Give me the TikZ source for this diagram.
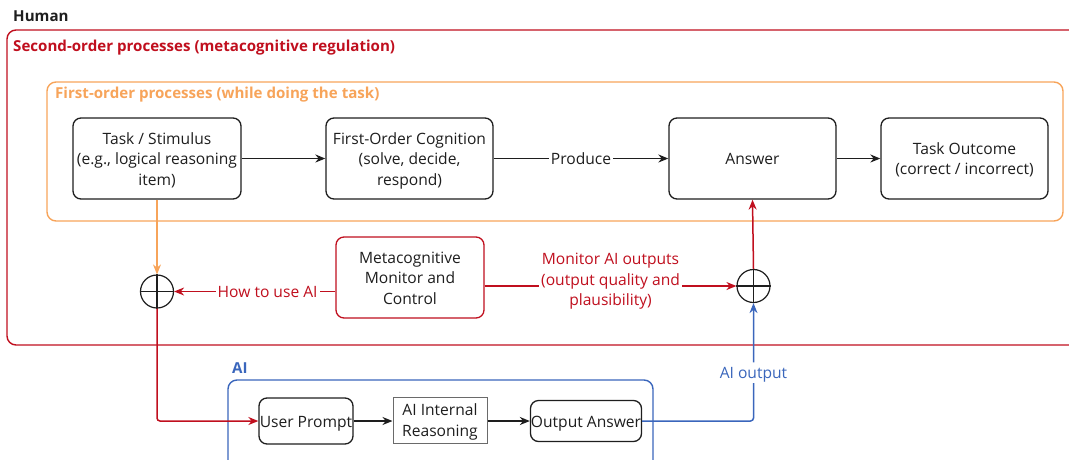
\documentclass[tikz,border=0pt]{standalone}
\usepackage{fontspec}
\setmainfont{Open Sans}
\usetikzlibrary{arrows.meta,calc}

\definecolor{metared}{HTML}{C00F1E}
\definecolor{firstorange}{HTML}{F7A45A}
\definecolor{aiblue}{HTML}{3A66BC}
\definecolor{ink}{HTML}{1E1E1E}
\definecolor{boxgray}{HTML}{6A6A6A}

% line strut: keeps every text line 20.5pt tall with its baseline low in the line
\newcommand\ls{\rule[-4.25pt]{0pt}{20.5pt}}

\tikzset{
  every node/.style={font=\fontsize{15.6}{20.5}\selectfont, text=ink},
  procbox/.style={draw=ink, line width=1.3pt, rounded corners=8pt, align=center,
    inner sep=0pt, fill=white},
  plainbox/.style={draw=boxgray, line width=1pt, align=center, inner sep=0pt, fill=white},
  frame/.style={line width=1.4pt, rounded corners=9pt, inner sep=0pt},
  title/.style={anchor=base west, inner sep=0pt, font=\fontsize{15.1}{18}\selectfont\bfseries},
  flow/.style={line width=1.5pt, -{Stealth[length=10pt,width=8pt]}},
  junction/.style={circle, draw=ink, line width=1.2pt, minimum size=33pt, inner sep=0pt, fill=white},
  lbl/.style={fill=white, inner xsep=2pt, inner ysep=0pt, align=center},
}

\begin{document}
\begin{tikzpicture}[x=1pt,y=-1pt]
\useasboundingbox (0,0) rectangle (1069,459);

% group frames
\node[frame, draw=metared, minimum width=1080pt, minimum height=315pt] (second) at (547,187.5) {};
\node[frame, draw=firstorange, minimum width=1016pt, minimum height=139pt] (first) at (555,151.5) {};
\node[frame, draw=aiblue, minimum width=425pt, minimum height=100pt] (aigroup) at (440.5,430) {};

% group titles
\node[title, text=ink] (humanT) at (13,21) {Human};
\node[title, text=metared] (secondT) at (13,51.5) {Second-order processes (metacognitive regulation)};
\node[title, text=firstorange] (firstT) at (55,98) {First-order processes (while doing the task)};
\node[title, text=aiblue] (aiT) at (232,373) {AI};

% first-order process boxes
\node[procbox, minimum width=168pt, minimum height=81pt] (task) at (157,158.5)
  {\ls Task / Stimulus\\(e.g., logical reasoning\\item)\ls};
\node[procbox, minimum width=167pt, minimum height=81pt] (cog) at (409.5,158.5)
  {\ls First-Order Cognition\\(solve, decide,\\respond)\ls};
\node[procbox, minimum width=167pt, minimum height=81pt] (answer) at (752.5,158.5) {\ls Answer\ls};
\node[procbox, minimum width=167pt, minimum height=81pt] (outcome) at (964.5,158.5)
  {\ls Task Outcome\\(correct / incorrect)\ls};

% metacognitive control
\node[procbox, draw=metared, minimum width=148pt, minimum height=81pt] (meta) at (410,277.5)
  {\ls Metacognitive\\Monitor and\\Control\ls};

% junctions
\node[junction] (j1) at (157,291.5) {};
\node[junction] (j2) at (753.5,286) {};
\draw[ink, line width=1.2pt] (j1.north) -- (j1.south) (j1.west) -- (j1.east);
\draw[ink, line width=1.2pt] (j2.north) -- (j2.south) (j2.west) -- (j2.east);

% AI pipeline boxes
\node[procbox, minimum width=94pt, minimum height=46pt] (prompt) at (306,421) {\ls User Prompt\ls};
\node[plainbox, minimum width=94pt, minimum height=46pt] (reason) at (440,420)
  {\ls AI Internal\\Reasoning\ls};
\node[procbox, minimum width=111pt, minimum height=41pt] (out) at (586,421) {\ls Output Answer\ls};

% first-order flow
\draw[flow, ink] (task) -- (cog);
\draw[flow, ink] (cog) -- node[lbl] (produceL) {\ls Produce\ls} (answer);
\draw[flow, ink] (answer) -- (outcome);

% task feeds the prompt junction
\draw[flow, firstorange, line width=1.2pt] (task.south) -- (j1.north);

% metacognitive regulation
\draw[flow, metared] (meta.west |- j1.east) -- node[lbl, text=metared, pos=0.42] (howL) {\ls How to use AI\ls} (j1.east);
\draw[flow, metared] (meta.east |- j2.west) -- node[lbl, text=metared, pos=0.5, yshift=7pt] (monL)
  {\ls Monitor AI outputs\\(output quality and\\plausibility)\ls} (j2.west);
\draw[flow, metared] (j2.north) -- (answer.south);

% prompt to AI and AI output back
\draw[flow, metared, rounded corners=3pt] (j1.south) |- (prompt.west);
\draw[flow, ink] (prompt) -- (prompt -| reason.west);
\draw[flow, ink] (reason.east |- out) -- (out.west);
\draw[flow, aiblue, rounded corners=3pt] (out.east) -| node[lbl, text=aiblue, pos=0.705] (aioutL) {\ls AI output\ls} (j2.south);
\end{tikzpicture}
\end{document}
